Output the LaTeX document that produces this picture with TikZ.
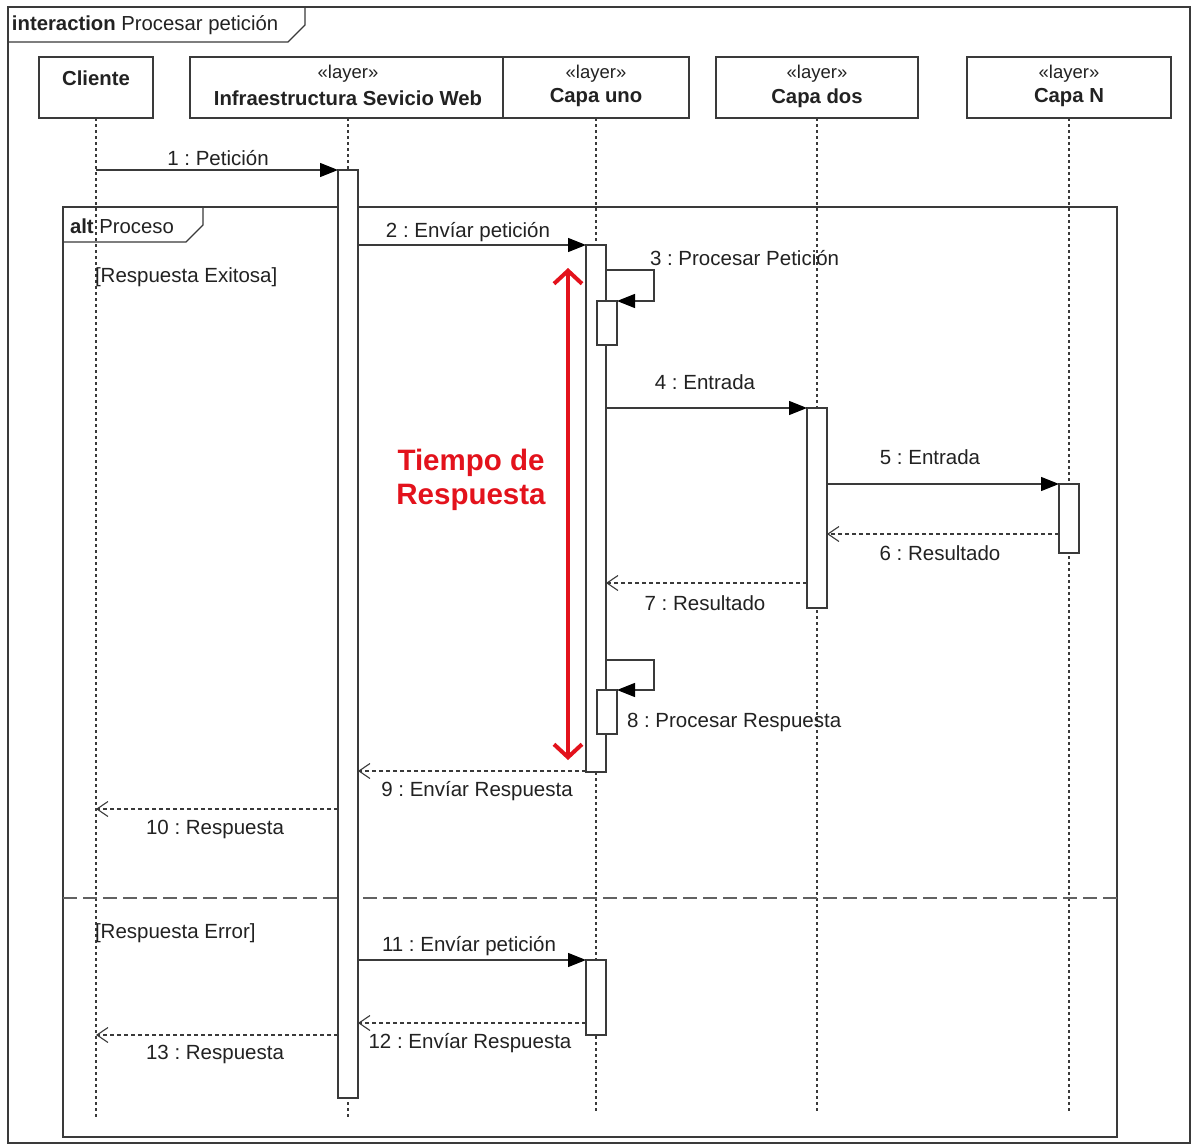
\documentclass[tikz,border=0pt]{standalone}
\usepackage{fontspec}
\setmainfont{Liberation Sans}
\usetikzlibrary{arrows.meta}
\definecolor{ln}{HTML}{3A3A3A}
\definecolor{tx}{HTML}{222222}
\definecolor{rd}{HTML}{E3121C}
\frenchspacing
\begin{document}
\begin{tikzpicture}[x=1pt,y=-1pt,
  every node/.style={inner sep=0pt,outer sep=0pt},
  headbox/.style={draw=ln,line width=1.3pt,fill=white,rectangle,minimum height=61pt},
  bar/.style={draw=ln,line width=1.2pt,fill=white,rectangle,minimum width=20pt},
  life/.style={draw=ln,line width=1.2pt,dash pattern=on 3pt off 3pt},
  frameline/.style={draw=ln,line width=1.3pt},
  sepline/.style={draw=ln!80,line width=2pt,dash pattern=on 14pt off 6pt},
  sync/.style={draw=ln,line width=1.2pt,-{Triangle[length=18pt,width=14pt,color=black]}},
  reply/.style={draw=ln,line width=1.1pt,dash pattern=on 4pt off 3pt,-{Straight Barb[length=11pt,width=15pt,line width=1.1pt]}},
  lbl/.style={font=\fontsize{20.5}{23}\selectfont,text=tx},
  head/.style={font=\bfseries\fontsize{20.3}{23}\selectfont,text=tx},
  stereo/.style={font=\fontsize{18.5}{21}\selectfont,text=tx},
  redtxt/.style={font=\bfseries\fontsize{29.5}{34}\selectfont,text=rd,align=center},
  redarrow/.style={draw=rd,line width=4pt,{Straight Barb[length=13pt,width=28pt,line width=4pt]}-{Straight Barb[length=13pt,width=28pt,line width=4pt]}}
]
\useasboundingbox (0,0) rectangle (1195,1146);
\fill[white] (0,0) rectangle (1195,1146);

% outer interaction frame
\draw[frameline] (8,7) rectangle (1190,1143);
\draw[frameline] (8,42) -- (288,42) -- (305,25) -- (305,7);
\node[anchor=west,font=\fontsize{20.3}{23}\selectfont,text=tx] (title) at (12,25) {\textbf{interaction}\ Procesar petición};

% lifeline heads
\node[headbox,minimum width=114pt] (hC) at (96,87.5) {};
\node[headbox,minimum width=316pt] (hI) at (348,87.5) {};
\node[headbox,minimum width=186pt] (hU) at (596,87.5) {};
\node[headbox,minimum width=202pt] (hD) at (817,87.5) {};
\node[headbox,minimum width=204pt] (hN) at (1069,87.5) {};

\node[head] (tC) at (96,78) {Cliente};
\node[stereo] (sI) at (348,74) {«layer»};
\node[head] (tI) at (348,98) {Infraestructura Sevicio Web};
\node[stereo] (sU) at (596,74) {«layer»};
\node[head] (tU) at (596,98) {Capa uno};
\node[stereo] (sD) at (817,74) {«layer»};
\node[head] (tD) at (817,98) {Capa dos};
\node[stereo] (sN) at (1069,74) {«layer»};
\node[head] (tN) at (1069,98) {Capa N};

% lifeline ends
\coordinate (eC) at (96,1118);
\coordinate (eI) at (348,1118);
\coordinate (eU) at (596,1111);
\coordinate (eD) at (817,1111);
\coordinate (eN) at (1069,1111);
\draw[life] (hC.south) -- (eC);
\draw[life] (hI.south) -- (eI);
\draw[life] (hU.south) -- (eU);
\draw[life] (hD.south) -- (eD);
\draw[life] (hN.south) -- (eN);

% alt fragment
\draw[frameline] (63,207) rectangle (1117,1137);
\draw[frameline] (63,242) -- (186,242) -- (203,225) -- (203,207);
\node[anchor=west,font=\fontsize{20.3}{23}\selectfont,text=tx] (alt) at (70,226) {\textbf{alt}\ Proceso};
\draw[sepline] (63,898) -- (1117,898);
\node[lbl,anchor=west] (g1) at (95,277) {[Respuesta Exitosa]};
\node[lbl,anchor=west] (g2) at (95,933) {[Respuesta Error]};

% activation bars
\node[bar,anchor=north,minimum height=928pt] (a1) at (348,170) {};
\node[bar,anchor=north,minimum height=527pt] (u1) at (596,245) {};
\node[bar,anchor=north,minimum height=44pt] (u1b) at (607,301) {};
\node[bar,anchor=north,minimum height=200pt] (d1) at (817,408) {};
\node[bar,anchor=north,minimum height=69pt] (n1) at (1069,484) {};
\node[bar,anchor=north,minimum height=44pt] (u1c) at (607,690) {};
\node[bar,anchor=north,minimum height=75pt] (u2) at (596,960) {};

% y levels
\coordinate (y170) at (0,170);
\coordinate (y270) at (0,270);
\coordinate (y534) at (0,534);
\coordinate (y583) at (0,583);
\coordinate (y660) at (0,660);
\coordinate (y771) at (0,771);
\coordinate (y809) at (0,809);
\coordinate (y1023) at (0,1023);
\coordinate (y1035) at (0,1035);
\coordinate (lpA) at (654,270);
\coordinate (lpB) at (654,301);
\coordinate (lpC) at (654,660);
\coordinate (lpD) at (654,690);

% messages
\draw[sync] (hC |- y170) -- (a1.north west);
\node[lbl] (l1) at (218,158) {1 : Petición};

\draw[sync] (a1.east |- u1.north) -- (u1.north west);
\node[lbl] (l2) at (468,232) {2 : Envíar petición};

\draw[sync] (u1.east |- y270) -- (lpA) -- (lpB) -- (u1b.north east);
\node[lbl,anchor=west] (l3) at (650,258) {3 : Procesar Petición};

\draw[sync] (u1.east |- d1.north) -- (d1.north west);
\node[lbl] (l4) at (705,382) {4 : Entrada};

\draw[sync] (d1.east |- n1.north) -- (n1.north west);
\node[lbl] (l5) at (930,457) {5 : Entrada};

\draw[reply] (n1.west |- y534) -- (d1.east |- y534);
\node[lbl] (l6) at (940,553) {6 : Resultado};

\draw[reply] (d1.west |- y583) -- (u1.east |- y583);
\node[lbl] (l7) at (705,603) {7 : Resultado};

\draw[sync] (u1.east |- y660) -- (lpC) -- (lpD) -- (u1c.north east);
\node[lbl,anchor=west] (l8) at (627,722) {8 : Procesar Respuesta};

\draw[reply] (u1.west |- y771) -- (a1.east |- y771);
\node[lbl] (l9) at (477,791) {9 : Envíar Respuesta};

\draw[reply] (a1.west |- y809) -- (hC |- y809);
\node[lbl] (l10) at (215,829) {10 : Respuesta};

\draw[sync] (a1.east |- u2.north) -- (u2.north west);
\node[lbl] (l11) at (469,946) {11 : Envíar petición};

\draw[reply] (u2.west |- y1023) -- (a1.east |- y1023);
\node[lbl] (l12) at (470,1043) {12 : Envíar Respuesta};

\draw[reply] (a1.west |- y1035) -- (hC |- y1035);
\node[lbl] (l13) at (215,1054) {13 : Respuesta};

% response time annotation
\coordinate (rt) at (568,268);
\coordinate (rb) at (568,760);
\draw[redarrow] (rt) -- (rb);
\node[redtxt] (tr) at (471,480) {Tiempo de\\Respuesta};
\end{tikzpicture}
\end{document}
